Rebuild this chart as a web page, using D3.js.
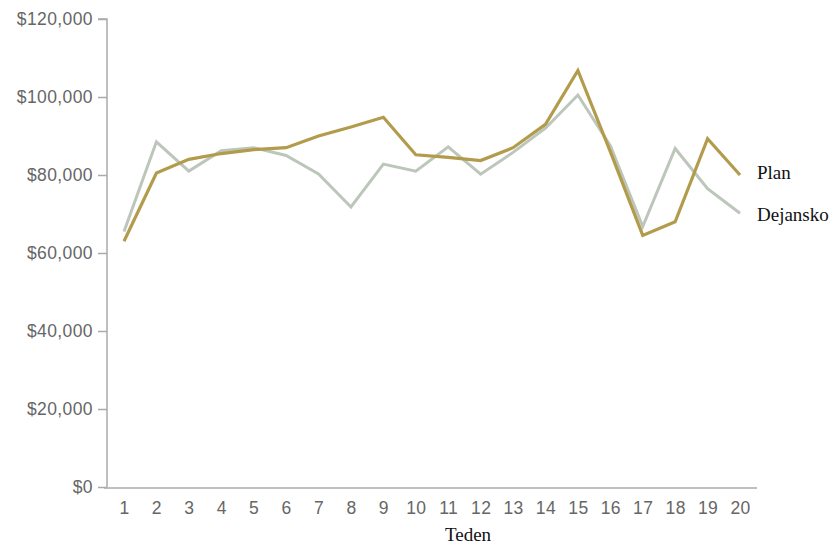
<!DOCTYPE html>
<html><head><meta charset="utf-8">
<script src="https://cdn.jsdelivr.net/npm/d3@7"></script>
<style>body{margin:0;background:#fff}</style>
</head><body>
<script>
const weeks = [1,2,3,4,5,6,7,8,9,10,11,12,13,14,15,16,17,18,19,20];
const plan = [63000,80500,84000,85500,86500,87000,90000,92300,94800,85200,84500,83700,87000,93000,106800,86000,64500,68000,89300,80000];
const actual = [65500,88500,81000,86200,87000,85000,80300,71800,82800,81000,87200,80200,85800,92000,100500,87500,66800,86800,76500,70200];
const yTicks = [0,20000,40000,60000,80000,100000,120000];
const seriesNames = ["Plan","Dejansko"];

const W=835,H=546;
const svg=d3.select("body").append("svg").attr("width",W).attr("height",H);
const x=d3.scalePoint().domain(weeks).range([124,740]);
const y=d3.scaleLinear().domain([0,120000]).range([487,19]);

const sans="'Liberation Sans', Arial, Helvetica, sans-serif";
const serif="'Liberation Serif', 'Times New Roman', serif";

// y axis
const ya=svg.append("g").attr("transform","translate(107,0)")
  .call(d3.axisLeft(y).tickValues(yTicks).tickSize(9).tickPadding(5)
    .tickFormat(d=>"$"+d3.format(",")(d)));
ya.attr("font-family",null).attr("font-size",null);
ya.select(".domain").attr("stroke","#aaa").attr("stroke-width",1.5).attr("d","M-9,19H0V487");
ya.selectAll(".tick line").attr("stroke","#aaa").attr("stroke-width",1.5);
ya.selectAll(".tick text").attr("fill","#666").style("font-family",sans).style("font-size","17.5px").style("letter-spacing","0.4px");

// x axis
const xa=svg.append("g").attr("transform","translate(0,488)")
  .call(d3.axisBottom(x).tickSize(0).tickPadding(14));
xa.attr("font-family",null).attr("font-size",null);
xa.select(".domain").attr("stroke","#aaa").attr("stroke-width",1.5).attr("d","M104,0H757");
xa.selectAll(".tick text").attr("fill","#666").style("font-family",sans).style("font-size","17.5px").style("letter-spacing","0.4px");

svg.append("text").attr("x",468).attr("y",541).attr("text-anchor","middle")
  .style("font-family",serif).style("font-size","19px").attr("fill","#111").text("Teden");

const line=d3.line().x((d,i)=>x(weeks[i])).y(d=>y(d));
svg.append("path").datum(actual).attr("d",line).attr("fill","none")
  .attr("stroke","#bcc6ba").attr("stroke-width",3).attr("stroke-linejoin","miter");
svg.append("path").datum(plan).attr("d",line).attr("fill","none")
  .attr("stroke","#b39b4c").attr("stroke-width",3.2).attr("stroke-linejoin","miter");

const legY=[172,214];
seriesNames.forEach((n,i)=>{
  svg.append("text").attr("x",757).attr("y",legY[i]).attr("dy","0.35em")
    .style("font-family",serif).style("font-size","19px")
    .attr("fill","#111").text(n);
});
</script>
</body></html>
